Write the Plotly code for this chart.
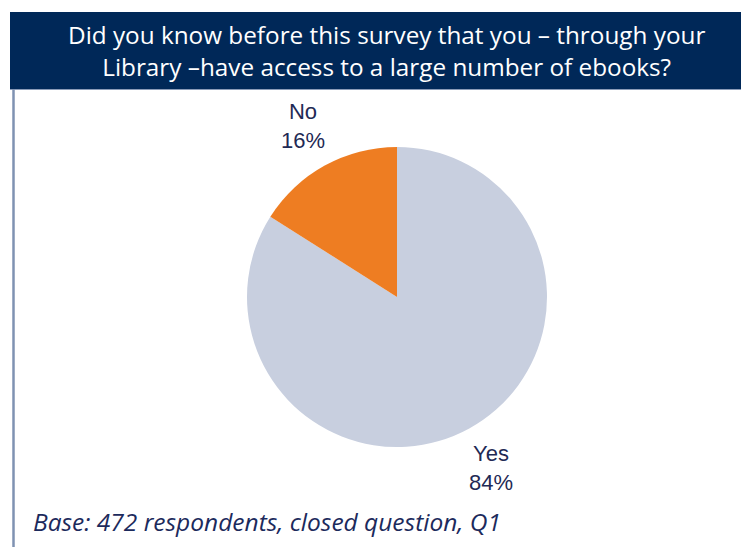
import math
import plotly.graph_objects as go

# ---- data ----
categories = ["Yes", "No"]
values = [84, 16]
slice_colors = ["#c8cfdf", "#ee7d22"]
title_lines = ["Did you know before this survey that you \u2013 through your",
               "Library \u2013have access to a large number of ebooks?"]
footer_text = "Base: 472 respondents, closed question, Q1"

W, H = 749, 547
OFF = 8  # page body margin compensation
cx, cy, R = 397 - OFF, 297 - OFF, 150  # pie geometry in px (figure coords)


def px_x(x):
    return x / W


def px_y(y):
    return 1 - y / H


fig = go.Figure()
fig.add_trace(go.Pie(
    labels=categories,
    values=values,
    marker=dict(colors=slice_colors, line=dict(width=0)),
    sort=False,
    direction="clockwise",
    rotation=0,
    textinfo="none",
    hoverinfo="label+percent",
    showlegend=False,
    domain=dict(x=[px_x(cx - R), px_x(cx + R)],
                y=[px_y(cy + R), px_y(cy - R)]),
))

# outside labels placed at each slice's mid-angle (clockwise from 12 o'clock)
total = sum(values)
start = 0.0
annotations = []
for lab, v in zip(categories, values):
    frac = v / total
    mid = start + frac / 2
    start += frac
    ang = 2 * math.pi * mid
    px = cx + 1.3 * R * math.sin(ang)
    py = cy - 1.3 * R * math.cos(ang)
    annotations.append(dict(
        x=px_x(px), y=px_y(py), xref="paper", yref="paper",
        text=f"{lab}<br>{round(frac * 100)}%", showarrow=False,
        font=dict(family="Liberation Sans, Arial, sans-serif", size=22, color="#1f2a55"),
        xanchor="center", yanchor="middle", align="center"))

# title
annotations.append(dict(
    x=px_x(387 - OFF), y=px_y(51 - OFF), xref="paper", yref="paper",
    text="<br>".join(title_lines), showarrow=False,
    font=dict(family="Open Sans, sans-serif", size=24.3, color="white"),
    xanchor="center", yanchor="middle", align="center"))

# footer
annotations.append(dict(
    x=px_x(31 - OFF), y=px_y(521 - OFF), xref="paper", yref="paper",
    text="<i>" + footer_text + "</i>", showarrow=False,
    font=dict(family="Open Sans, sans-serif", size=24.5, color="#1c2a5c"),
    xanchor="left", yanchor="middle", align="left"))

shapes = [
    dict(type="rect", xref="paper", yref="paper",
         x0=px_x(10 - OFF), x1=1, y0=px_y(89 - OFF), y1=px_y(12 - OFF),
         fillcolor="#002858", line=dict(width=0), layer="below"),
    dict(type="line", xref="paper", yref="paper",
         x0=px_x(10 - OFF), x1=1, y0=px_y(89.5 - OFF), y1=px_y(89.5 - OFF),
         line=dict(color="#8a9bb8", width=1)),
    dict(type="line", xref="paper", yref="paper",
         x0=px_x(13.5 - OFF), x1=px_x(13.5 - OFF), y0=0, y1=px_y(89 - OFF),
         line=dict(color="#7f92b2", width=2.5)),
]

fig.update_layout(
    width=W, height=H,
    margin=dict(l=0, r=0, t=0, b=0),
    paper_bgcolor="white", plot_bgcolor="white",
    annotations=annotations, shapes=shapes,
)

fig.write_html("out.html")
